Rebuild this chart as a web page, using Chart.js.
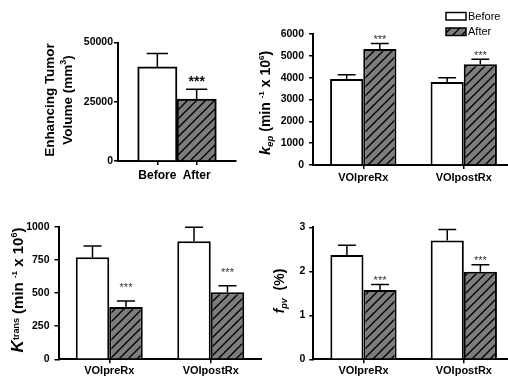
<!DOCTYPE html>
<html>
<head>
<meta charset="utf-8">
<script src="https://cdn.jsdelivr.net/npm/chart.js@4.4.0/dist/chart.umd.min.js"></script>
<style>
html, body { margin: 0; padding: 0; background: #fff; overflow: hidden; width: 508px; height: 377px; }
canvas { position: absolute; }
</style>
</head>
<body>
<canvas id="volChart" width="250" height="185" style="left:0;top:0"></canvas>
<canvas id="kepChart" width="260" height="190" style="left:254px;top:0"></canvas>
<canvas id="ktransChart" width="262" height="187" style="left:0;top:190px"></canvas>
<canvas id="fpvChart" width="260" height="187" style="left:254px;top:190px"></canvas>
<script>
// values (bar = mean, upper = top of error bar)
var volumeLabels = ['Before', 'After']
var volumeMeans = [39750, 26140]
var volumeUpper = [45400, 30230]

var regionLabels = ['VOIpreRx', 'VOIpostRx']
var seriesNames = ['Before', 'After']

var kepBefore = [3940, 3800]
var kepBeforeUpper = [4135, 4000]
var kepAfter = [5310, 4610]
var kepAfterUpper = [5570, 4840]

var ktransBefore = [770, 890]
var ktransBeforeUpper = [855, 995]
var ktransAfter = [395, 505]
var ktransAfterUpper = [440, 555]

var fpvBefore = [2.37, 2.70]
var fpvBeforeUpper = [2.59, 2.95]
var fpvAfter = [1.575, 1.99]
var fpvAfterUpper = [1.70, 2.15]

var stars = '***'

var FONT = "'Liberation Sans', Arial, sans-serif"
Chart.defaults.font.family = FONT
Chart.defaults.color = '#000'

function makeHatch(ctx) {
	var s = 9
	var c = document.createElement('canvas')
	c.width = s; c.height = s
	var x = c.getContext('2d')
	x.fillStyle = '#7d7d7d'
	x.fillRect(0, 0, s, s)
	x.strokeStyle = '#000'
	x.lineWidth = 1.4
	x.beginPath()
	x.moveTo(0, s); x.lineTo(s, 0)
	x.moveTo(-2, 2); x.lineTo(2, -2)
	x.moveTo(s - 2, s + 2); x.lineTo(s + 2, s - 2)
	x.stroke()
	return ctx.createPattern(c, 'repeat')
}

// error bars + significance stars
var errorBars = {
	id: 'errorBars',
	afterDatasetsDraw: function(chart, args, opts) {
		var ctx = chart.ctx, y = chart.scales.y
		chart.data.datasets.forEach(function(ds, i) {
			if (!ds.upper) return
			chart.getDatasetMeta(i).data.forEach(function(bar, j) {
				if (ds.upper[j] == null) return
				var top = y.getPixelForValue(ds.upper[j])
				var half = bar.width * 0.27
				ctx.save()
				ctx.strokeStyle = '#000'
				ctx.lineWidth = 1.5
				ctx.beginPath()
				ctx.moveTo(bar.x, bar.y)
				ctx.lineTo(bar.x, top)
				ctx.moveTo(bar.x - half, top)
				ctx.lineTo(bar.x + half, top)
				ctx.stroke()
				if (ds.marks && ds.marks[j]) {
					ctx.fillStyle = opts.starColor || '#000'
					ctx.font = opts.starFont
					ctx.textAlign = 'center'
					ctx.textBaseline = 'alphabetic'
					ctx.fillText(ds.marks[j], bar.x, top - opts.starGap)
				}
				ctx.restore()
			})
		})
	}
}

// rotated axis titles with sub/superscripts
var richTitle = {
	id: 'richTitle',
	afterDraw: function(chart, args, opts) {
		if (!opts.lines) return
		var ctx = chart.ctx
		opts.lines.forEach(function(line) {
			ctx.save()
			ctx.translate(line.x, opts.y)
			ctx.rotate(-Math.PI / 2)
			ctx.fillStyle = '#000'
			ctx.textBaseline = 'alphabetic'
			ctx.textAlign = 'left'
			var total = 0
			line.segs.forEach(function(s) { ctx.font = s.font; total += ctx.measureText(s.text).width })
			var x = -total / 2
			line.segs.forEach(function(s) {
				ctx.font = s.font
				ctx.fillText(s.text, x, line.base + (s.dy || 0))
				x += ctx.measureText(s.text).width
			})
			ctx.restore()
		})
	}
}

// small stacked legend (top right panel)
var boxLegend = {
	id: 'boxLegend',
	afterDraw: function(chart, args, opts) {
		if (!opts.show) return
		var ctx = chart.ctx
		chart.data.datasets.forEach(function(ds, i) {
			var y = opts.top + i * opts.row
			ctx.save()
			ctx.fillStyle = ds.backgroundColor
			ctx.fillRect(opts.left, y, 20, 7.5)
			ctx.strokeStyle = '#000'
			ctx.lineWidth = 1.5
			ctx.strokeRect(opts.left, y, 20, 7.5)
			ctx.fillStyle = '#000'
			ctx.font = '11px ' + FONT
			ctx.textBaseline = 'middle'
			ctx.fillText(ds.label, opts.left + 22, y + 4)
			ctx.restore()
		})
	}
}

function yScale(max, step, width, tickLen, pad) {
	return {
		min: 0, max: max,
		ticks: { stepSize: step, padding: pad, color: '#000', font: { size: 10.5, weight: 'bold' },
			callback: function(v) { return String(v) } },
		grid: { drawOnChartArea: false, drawTicks: true, tickLength: tickLen, color: '#000', lineWidth: 1.5 },
		border: { color: '#000', width: 2 },
		afterFit: function(s) { s.width = width }
	}
}

function xScale(height, pad, size, offset) {
	return {
		offset: offset,
		ticks: { padding: pad, color: '#000', autoSkip: false, maxRotation: 0, font: { size: size, weight: 'bold' } },
		grid: { drawOnChartArea: false, offset: false, tickLength: 4, lineWidth: 1.5,
			color: function(c) { return c.tick && c.tick.label ? '#000' : 'rgba(0,0,0,0)' } },
		border: { color: '#000', width: 2 },
		afterFit: function(s) { s.height = height }
	}
}

var B = 'bold ', IB = 'italic bold '

// panel 1: tumour volume
var volCtx = document.getElementById('volChart').getContext('2d')
var volHatch = makeHatch(volCtx)
new Chart(volCtx, {
	type: 'bar',
	data: {
		labels: [''].concat(volumeLabels, ['']),
		datasets: [{
			data: [null].concat(volumeMeans, [null]),
			upper: [null].concat(volumeUpper, [null]),
			marks: [null, null, stars, null],
			backgroundColor: ['#fff', '#fff', volHatch, '#fff'],
			borderColor: '#000', borderWidth: 2,
			categoryPercentage: 1, barPercentage: 1
		}]
	},
	options: {
		responsive: false, animation: false,
		layout: { padding: { left: 0, top: 42.5, right: 14, bottom: 0 } },
		scales: { x: xScale(24, 3, 12, false), y: yScale(50000, 25000, 118, 4, 1) },
		plugins: {
			legend: { display: false }, tooltip: { enabled: false },
			errorBars: { starFont: 'bold 14px ' + FONT, starGap: 3.5, starColor: '#111' },
			richTitle: { y: 100, lines: [
				{ x: 49, base: 5, segs: [{ text: 'Enhancing Tumor', font: B + '13.5px ' + FONT }] },
				{ x: 67, base: 5, segs: [
					{ text: 'Volume (mm', font: B + '13.5px ' + FONT },
					{ text: '3', font: B + '9px ' + FONT, dy: -6 },
					{ text: ')', font: B + '13.5px ' + FONT }] }
			] }
		}
	},
	plugins: [errorBars, richTitle]
})

function groupedChart(id, before, beforeUp, after, afterUp, cfg) {
	var ctx = document.getElementById(id).getContext('2d')
	var hatch = makeHatch(ctx)
	return new Chart(ctx, {
		type: 'bar',
		data: {
			labels: regionLabels,
			datasets: [
				{ label: seriesNames[0], data: before, upper: beforeUp, backgroundColor: '#fff',
					borderColor: '#000', borderWidth: 2, categoryPercentage: 0.66, barPercentage: 1 },
				{ label: seriesNames[1], data: after, upper: afterUp, marks: after.map(function() { return stars }),
					backgroundColor: hatch, borderColor: '#000', borderWidth: 2, categoryPercentage: 0.66, barPercentage: 1 }
			]
		},
		options: {
			responsive: false, animation: false,
			layout: { padding: cfg.padding },
			scales: { x: xScale(cfg.xHeight, cfg.xPad, 11, true), y: yScale(cfg.max, cfg.step, cfg.yWidth, 4, cfg.tickPad) },
			plugins: {
				legend: { display: false }, tooltip: { enabled: false },
				errorBars: { starFont: '11px ' + FONT, starGap: cfg.starGap, starColor: '#333' },
				richTitle: cfg.title,
				boxLegend: cfg.legend || {}
			}
		},
		plugins: [errorBars, richTitle, boxLegend]
	})
}

groupedChart('kepChart', kepBefore, kepBeforeUpper, kepAfter, kepAfterUpper, {
	padding: { left: 0, top: 34, right: 0, bottom: 0 }, xHeight: 25, xPad: 2, yWidth: 59,
	max: 6000, step: 1000, tickPad: 5, starGap: 0.5,
	legend: { show: true, left: 192, top: 12.5, row: 15.5 },
	title: { y: 103, lines: [{ x: 11, base: 5, segs: [
		{ text: 'k', font: IB + '15px ' + FONT },
		{ text: 'ep', font: IB + '9.5px ' + FONT, dy: 3 },
		{ text: ' (min ', font: B + '14px ' + FONT },
		{ text: '-1', font: B + '8px ' + FONT, dy: -6 },
		{ text: ' x 10', font: B + '14px ' + FONT },
		{ text: '6', font: B + '8px ' + FONT, dy: -6 },
		{ text: ')', font: B + '14px ' + FONT }] }] }
})

groupedChart('ktransChart', ktransBefore, ktransBeforeUpper, ktransAfter, ktransAfterUpper, {
	padding: { left: 0, top: 36.7, right: 0.5, bottom: 0 }, xHeight: 17.7, xPad: 1, yWidth: 58.5,
	max: 1000, step: 250, tickPad: 5, starGap: 10,
	title: { y: 100, lines: [{ x: 17, base: 5.5, segs: [
		{ text: 'K', font: IB + '17px ' + FONT },
		{ text: 'trans', font: B + '9px ' + FONT, dy: -4 },
		{ text: ' (min ', font: B + '15px ' + FONT },
		{ text: '-1', font: B + '8px ' + FONT, dy: -6 },
		{ text: ' x 10', font: B + '15px ' + FONT },
		{ text: '6', font: B + '9px ' + FONT, dy: -6 },
		{ text: ')', font: B + '15px ' + FONT }] }] }
})

groupedChart('fpvChart', fpvBefore, fpvBeforeUpper, fpvAfter, fpvAfterUpper, {
	padding: { left: 0, top: 37.3, right: 0, bottom: 0 }, xHeight: 17.7, xPad: 1, yWidth: 59.3,
	max: 3, step: 1, tickPad: 4, starGap: 0.5,
	title: { y: 101, lines: [{ x: 25, base: 5, segs: [
		{ text: 'f', font: IB + '14px ' + FONT },
		{ text: 'pv', font: IB + '9px ' + FONT, dy: 3 },
		{ text: '  (%)', font: B + '14px ' + FONT }] }] }
})
</script>
</body>
</html>
